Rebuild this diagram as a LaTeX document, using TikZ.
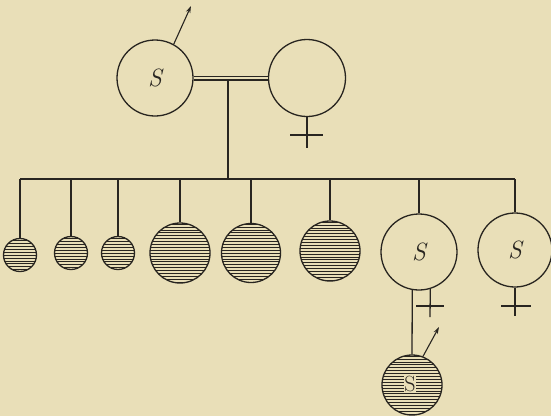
\documentclass[tikz,border=0pt]{standalone}
\usetikzlibrary{arrows.meta}
\definecolor{paper}{RGB}{233,223,184}
\definecolor{ink}{RGB}{40,37,32}
\begin{document}
\begin{tikzpicture}[x=1pt,y=-1pt,
  line width=1.3pt, draw=ink,
  every node/.style={text=ink},
  person/.style={circle, draw=ink, line width=1.3pt, inner sep=0pt, minimum size=#1},
  hatched/.style={path picture={\foreach \k in {-16,...,16}{\draw[ink, line width=0.55pt] ([xshift=-45pt,yshift=\k*2.9pt]path picture bounding box.center) -- ++(90pt,0);}}},
  lbl/.style={font=\fontsize{25}{25}\selectfont\itshape},
  arr/.style={-{Stealth[length=7pt,width=4.5pt]}, line width=1.1pt}
]
\fill[paper] (0,0) rectangle (551,416);
\useasboundingbox (0,0) rectangle (551,416);

% parents
\node[person=76, lbl] (P1) at (155,78) {S};
\node[person=77] (P2) at (307,78) {};
\draw[double=paper, double distance=2.8pt, line width=1.1pt] (P1.east) -- (P2.west);
\coordinate (mid) at (228,79);
\coordinate (bar) at (228,179);
\draw (mid) -- (bar);
% female sign of P2
\coordinate (p2s) at (307,148);
\coordinate (p2l) at (290,135);
\coordinate (p2r) at (323,135);
\draw (P2.south) -- (p2s);
\draw (p2l) -- (p2r);
% arrow P1
\coordinate (a1) at (191,6);
\draw[arr] (P1.61) -- (a1);

% children
\node[person=33, hatched] (c1) at (20,255) {};
\node[person=33, hatched] (c2) at (71,253) {};
\node[person=33, hatched] (c3) at (118,253) {};
\node[person=60, hatched] (c4) at (180,253) {};
\node[person=59, hatched] (c5) at (251,253) {};
\node[person=60, hatched] (c6) at (330,251) {};
\node[person=76, lbl] (c7) at (419,252) {S};
\node[person=74, lbl] (c8) at (515,250) {S};

% sibship bar
\draw (c1.north |- bar) -- (c8.north |- bar);
\foreach \c in {c1,c2,c3,c4,c5,c6,c7,c8}{\draw (\c.north |- bar) -- (\c.north);}

% female signs of c7, c8
\coordinate (c7s) at (430,317);
\coordinate (c7l) at (416,306);
\coordinate (c7r) at (444,306);
\draw (c7.-73) -- (c7s);
\draw (c7l) -- (c7r);
\coordinate (c8s) at (515,316);
\coordinate (c8l) at (501,306);
\coordinate (c8r) at (531,306);
\draw (c8.south) -- (c8s);
\draw (c8l) -- (c8r);

% grandchild
\node[person=60, hatched] (g) at (412,385) {};
\node[fill=paper, inner sep=0pt, font=\fontsize{22}{22}\selectfont] (gS) at (410,384) {S};
\draw (c7.-100) -- (g.north);
\coordinate (a2) at (439,327);
\draw[arr] (g.69) -- (a2);
\end{tikzpicture}
\end{document}
